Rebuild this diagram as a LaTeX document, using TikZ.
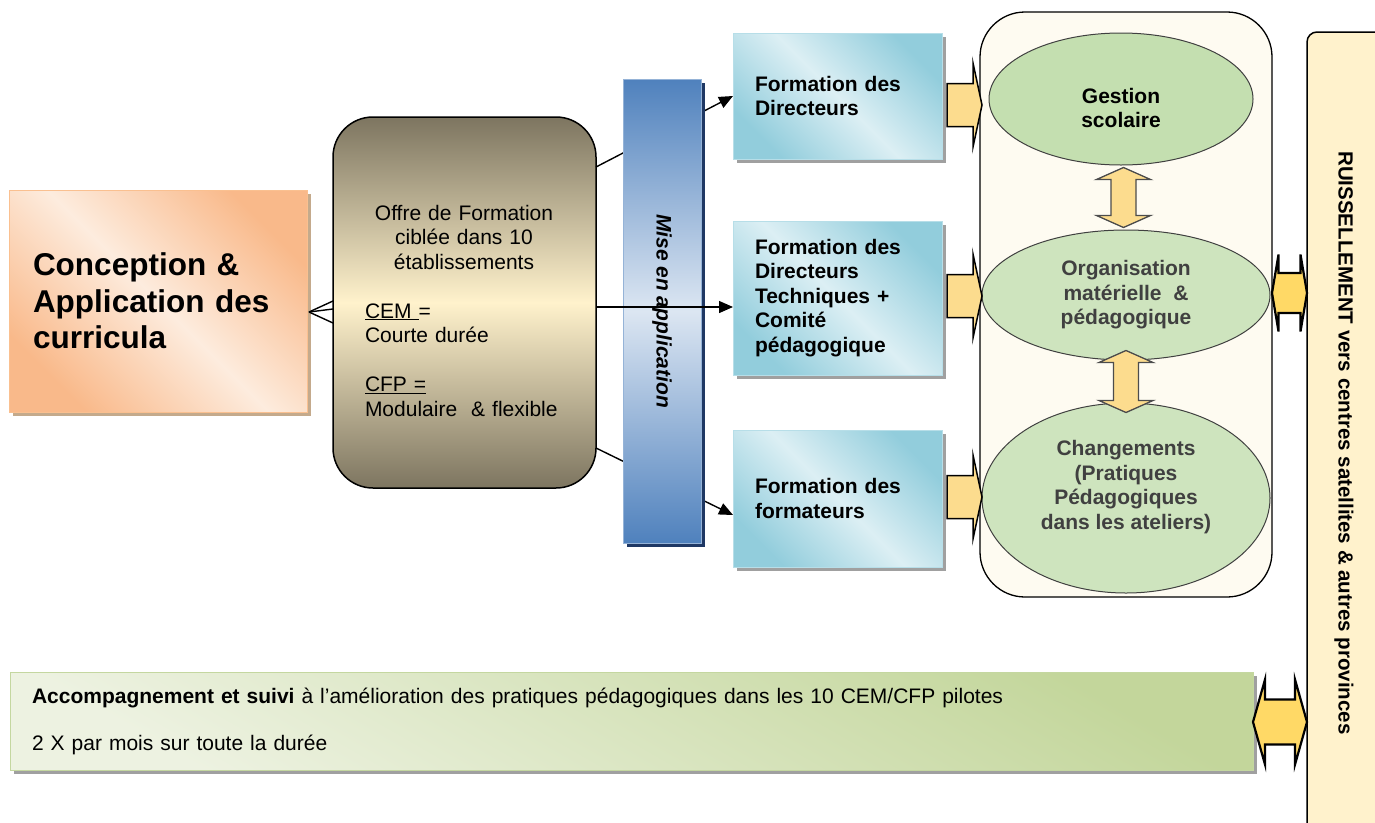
\documentclass[tikz,border=0pt]{standalone}
\usepackage{fontspec}
\setmainfont{Liberation Sans}
\usetikzlibrary{positioning,calc,shapes.geometric,shadows,arrows.meta}

\definecolor{orangedk}{RGB}{249,185,138}
\definecolor{orangelt}{RGB}{253,236,222}
\definecolor{orangeline}{RGB}{250,192,144}
\definecolor{tanshadow}{RGB}{196,170,140}
\definecolor{browndk}{RGB}{125,117,96}
\definecolor{cream}{RGB}{255,242,204}
\definecolor{bluedk}{RGB}{79,129,189}
\definecolor{bluelt}{RGB}{220,230,242}
\definecolor{blueline}{RGB}{149,179,215}
\definecolor{navy}{RGB}{31,56,100}
\definecolor{cyandk}{RGB}{146,205,220}
\definecolor{cyanlt}{RGB}{220,239,244}
\definecolor{cyanline}{RGB}{183,222,232}
\definecolor{shadowgrey}{RGB}{160,160,160}
\definecolor{paper}{RGB}{254,251,241}
\definecolor{leaf}{RGB}{196,223,176}
\definecolor{leaflt}{RGB}{206,228,190}
\definecolor{sand}{RGB}{252,220,142}
\definecolor{gold}{RGB}{255,217,102}
\definecolor{greendk}{RGB}{195,214,155}
\definecolor{greenlt}{RGB}{237,242,225}
\definecolor{greenline}{RGB}{196,215,160}

\tikzset{
  pics/fatright/.style={code={
    \draw[fatarrow] (-17.5,-21.5) -- (8.5,-21.5) -- (8.5,-42) -- (17.5,0) -- (8.5,42) -- (8.5,21.5) -- (-17.5,21.5) -- cycle;
  }},
  pics/pairarrow/.style n args={5}{code={
    \draw[#5] (-#1,0) -- (-#2,-#4) -- (-#2,-#3) -- (#2,-#3) -- (#2,-#4) -- (#1,0) -- (#2,#4) -- (#2,#3) -- (-#2,#3) -- (-#2,#4) -- cycle;
  }}
}

\begin{document}
\begin{tikzpicture}[x=1pt, y=-1pt,
    every node/.style={inner sep=0pt, outer sep=0pt},
    plain/.style={font=\fontsize{21}{24.5}\selectfont},
    heavy/.style={font=\fontsize{21}{24.5}\selectfont\bfseries},
    conn/.style={line width=1.4pt, -{Triangle[length=14pt, width=12pt]}},
    fork/.style={line width=1.4pt},
    greyshadow/.style={drop shadow={shadow xshift=4pt, shadow yshift=-4pt, fill=shadowgrey, opacity=1}},
    formbox/.style={heavy, draw=cyanline, line width=0.8pt, top color=cyandk, bottom color=cyandk, middle color=cyanlt, shading angle=-45, greyshadow, minimum width=209pt, text width=165pt, inner xsep=22pt, align=left},
    result/.style={ellipse, draw=black!75, line width=1pt, fill=leaflt},
    resulttxt/.style={heavy, align=center, text=black!75},
    fatarrow/.style={draw=black, line width=1.5pt, fill=sand},
    pairsoft/.style={draw=black!70, line width=1.3pt, fill=sand},
    pairbright/.style={draw=black, line width=2.2pt, fill=gold}]
  \useasboundingbox (0,0) rectangle (1375,822);

  \node[draw=black, line width=1.5pt, rounded corners=10pt, fill=cream, minimum width=93pt, minimum height=818pt] (ruiss) at (1353.5,441) {};
  \node[rotate=-90, font=\fontsize{20.5}{24}\selectfont\bfseries] (ruisstxt) at (1344,443) {RUISSELLEMENT vers centres satellites \& autres provinces};
  \node[draw=black, line width=1.3pt, rounded corners=45pt, fill=paper, minimum width=292pt, minimum height=585pt] (impact) at (1126,304.5) {};

  \node[draw=orangeline, line width=1pt, top color=orangedk, bottom color=orangedk, middle color=orangelt, shading angle=-45,
        drop shadow={shadow xshift=4pt, shadow yshift=-4pt, fill=tanshadow, opacity=1},
        minimum width=298pt, minimum height=222pt, text width=250pt, inner xsep=24pt, align=left,
        font=\fontsize{31.5}{36.5}\selectfont\bfseries] (concept) at (158,301) {Conception \&\\Application des\\curricula};
  \node[draw=black, line width=1.5pt, rounded corners=40pt, top color=browndk, bottom color=browndk, middle color=cream,
        minimum width=263pt, minimum height=371pt] (offre) at (464.5,302.5) {};
  \node[plain, text width=198pt] (offretxt) at (464,310.5) {\centering Offre de Formation\\ciblée dans 10\\établissements\par
    \vspace{24.5pt}\raggedright\underline{CEM\ }=\\Courte durée\par
    \vspace{24.5pt}\underline{CFP =}\\Modulaire~ \& flexible\par};
  \coordinate (split) at ([shift={(2pt,-11pt)}]concept.east);
  \draw[fork] (split) -- ([yshift=1.5pt]offre.west);
  \draw[fork] (split) -- ([yshift=-6.5pt]offre.west);
  \draw[fork] (split) -- ([yshift=-20.5pt]offre.west);

  \node[formbox, minimum height=126pt] (fdir) at (837.5,96) {Formation des\\Directeurs};
  \node[formbox, minimum height=154pt, below=62pt of fdir] (fdirtech) {Formation des\\Directeurs\\Techniques +\\Comité\\pédagogique};
  \node[formbox, minimum height=137pt, below=55pt of fdirtech] (fform) {Formation des\\formateurs};

  \draw[conn] ([yshift=135.5pt]offre.east) -- (fdir.west);
  \draw[conn] ([yshift=-145.5pt]offre.east) -- ([yshift=-16.5pt]fform.west);
  \node[draw=blueline, line width=0.8pt, top color=bluedk, bottom color=bluedk, middle color=bluelt,
        drop shadow={shadow xshift=4pt, shadow yshift=-4pt, fill=navy, opacity=1},
        minimum width=78pt, minimum height=464pt] (mise) at (662,311) {};
  \node[rotate=-90, font=\fontsize{21}{24.5}\selectfont\bfseries\itshape] (misetxt) at (mise.center) {Mise en application};
  \draw[conn] ([yshift=-4.5pt]offre.east) -- ([yshift=-9pt]fdirtech.west);

  \node[result, fill=leaf, minimum width=264pt, minimum height=132pt] (gestion) at (1121,99) {};
  \node[resulttxt, text=black] (gestiontxt) at ([yshift=-9pt]gestion.center) {Gestion\\scolaire};
  \node[result, minimum width=288pt, minimum height=130pt] (organis) at (1126,295) {};
  \node[resulttxt] (organistxt) at (organis.center) {Organisation\\matérielle~ \&\\pédagogique};
  \node[result, minimum width=288pt, minimum height=190pt] (changem) at (1126,498) {};
  \node[resulttxt] (changemtxt) at ([yshift=11pt]changem.center) {Changements\\(Pratiques\\Pédagogiques\\dans les ateliers)};

  \pic at (964.5,105) {fatright};
  \pic at (964.5,296) {fatright};
  \pic at (964.5,497) {fatright};
  \pic[rotate=90] at ($(gestion.south)!.5!(organis.north)$) {pairarrow={30}{18}{12.5}{27}{pairsoft}};
  \pic[rotate=90] at ($(organis.south)!.5!(changem.north)$) {pairarrow={31}{19}{12.5}{27}{pairsoft}};
  \pic at (1289.5,293) {pairarrow={17.5}{11}{20}{38.5}{pairbright}};

  \node[plain, draw=greenline, line width=0.8pt, top color=greendk, bottom color=greenlt, shading angle=-30, greyshadow,
        minimum width=1243pt, minimum height=98pt, text width=1199pt, inner xsep=22pt, align=left] (suivi) at (631.5,721)
        {\textbf{Accompagnement et suivi} à l’amélioration des pratiques pédagogiques dans les 10 CEM/CFP pilotes\\[22.5pt]2 X par mois sur toute la durée};
  \pic at (1280,722) {pairarrow={27}{15}{22.5}{42.5}{pairbright}};
\end{tikzpicture}
\end{document}
